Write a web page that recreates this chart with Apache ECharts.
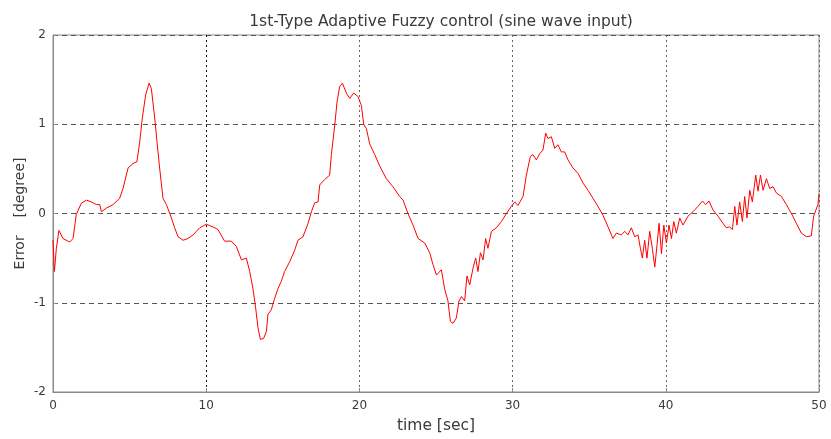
<!DOCTYPE html>
<html>
<head>
<meta charset="utf-8">
<script src="https://cdn.jsdelivr.net/npm/echarts@6/dist/echarts.min.js"></script>
<style>
html,body{margin:0;padding:0;background:#fff;}
#chart{width:831px;height:439px;}
</style>
</head>
<body>
<div id="chart"></div>
<script>
const titleText = '1st-Type Adaptive Fuzzy control (sine wave input)';
const xName = 'time [sec]';
const yName = 'Error    [degree]';
const xTicks = [0, 10, 20, 30, 40, 50];
const yTicks = [-2, -1, 0, 1, 2];

const time = [
  0, 0.09, 0.22, 0.39, 0.65, 1.09, 1.31, 1.52, 1.85, 2.18,
  2.5, 2.83, 3.05, 3.16, 3.48, 3.92, 4.35, 4.57, 4.9, 5.22,
  5.48, 5.66, 5.83, 6.05, 6.27, 6.42, 6.64, 6.79, 6.96, 7.18,
  7.4, 7.73, 7.94, 8.16, 8.49, 8.81, 9.14, 9.58, 10.01, 10.56,
  10.77, 11.2, 11.64, 11.97, 12.3, 12.62, 12.84, 13.05, 13.23, 13.38,
  13.54, 13.75, 13.93, 14.03, 14.25, 14.47, 14.69, 14.9, 15.12, 15.45,
  15.78, 15.99, 16.32, 16.65, 16.87, 17.08, 17.3, 17.41, 17.73, 18.06,
  18.17, 18.39, 18.54, 18.71, 18.89, 19.15, 19.37, 19.63, 19.91, 20.13,
  20.28, 20.46, 20.67, 21.0, 21.33, 21.76, 22.19, 22.63, 22.85, 23.17,
  23.5, 23.83, 24.26, 24.59, 24.8, 25.03, 25.35, 25.57, 25.78, 25.94,
  26.11, 26.33, 26.5, 26.66, 26.87, 27.02, 27.2, 27.42, 27.59, 27.74,
  27.9, 28.07, 28.24, 28.39, 28.62, 28.94, 29.27, 29.6, 29.92, 30.14,
  30.35, 30.68, 30.9, 31.16, 31.33, 31.55, 31.77, 31.98, 32.16, 32.31,
  32.53, 32.75, 32.96, 33.18, 33.4, 33.62, 33.94, 34.27, 34.6, 34.92,
  35.25, 35.57, 35.9, 36.23, 36.55, 36.77, 37.1, 37.32, 37.53, 37.75,
  37.97, 38.19, 38.34, 38.47, 38.62, 38.77, 38.95, 39.12, 39.28, 39.43,
  39.56, 39.72, 39.87, 40.04, 40.21, 40.37, 40.52, 40.69, 40.91, 41.12,
  41.45, 41.78, 42.1, 42.39, 42.6, 42.82, 43.08, 43.41, 43.73, 43.95,
  44.17, 44.35, 44.5, 44.65, 44.82, 45.0, 45.15, 45.3, 45.48, 45.65,
  45.87, 46.02, 46.18, 46.35, 46.57, 46.78, 47.0, 47.22, 47.55, 47.87,
  48.2, 48.52, 48.85, 49.18, 49.5, 49.65, 49.93, 50.0
];

const error = [
  -0.3, -0.65, -0.39, -0.19, -0.28, -0.32, -0.28, -0.01, 0.115, 0.15,
  0.13, 0.10, 0.10, 0.02, 0.06, 0.10, 0.17, 0.28, 0.51, 0.56,
  0.58, 0.80, 1.07, 1.33, 1.46, 1.40, 1.07, 0.80, 0.51, 0.17,
  0.10, -0.05, -0.16, -0.26, -0.30, -0.28, -0.24, -0.16, -0.12, -0.16,
  -0.18, -0.31, -0.31, -0.37, -0.52, -0.50, -0.65, -0.84, -1.06, -1.28,
  -1.41, -1.40, -1.32, -1.13, -1.08, -0.95, -0.84, -0.76, -0.65, -0.54,
  -0.41, -0.30, -0.26, -0.11, 0.02, 0.12, 0.13, 0.32, 0.38, 0.43,
  0.66, 0.99, 1.25, 1.42, 1.46, 1.35, 1.29, 1.35, 1.31, 1.21,
  1.00, 0.95, 0.78, 0.66, 0.53, 0.39, 0.30, 0.19, 0.15, 0.00,
  -0.13, -0.28, -0.33, -0.44, -0.57, -0.69, -0.63, -0.85, -0.98, -1.21,
  -1.23, -1.17, -0.98, -0.93, -0.98, -0.70, -0.80, -0.61, -0.50, -0.65,
  -0.44, -0.52, -0.28, -0.39, -0.20, -0.16, -0.09, 0.00, 0.08, 0.13,
  0.09, 0.19, 0.43, 0.64, 0.66, 0.60, 0.67, 0.71, 0.90, 0.84,
  0.86, 0.73, 0.77, 0.69, 0.69, 0.60, 0.51, 0.45, 0.34, 0.26,
  0.17, 0.08, -0.02, -0.15, -0.28, -0.22, -0.24, -0.20, -0.24, -0.16,
  -0.26, -0.24, -0.39, -0.50, -0.30, -0.50, -0.20, -0.39, -0.60, -0.35,
  -0.11, -0.45, -0.13, -0.33, -0.13, -0.28, -0.09, -0.22, -0.05, -0.13,
  -0.03, 0.02, 0.08, 0.14, 0.10, 0.14, 0.04, -0.03, -0.11, -0.16,
  -0.15, -0.18, 0.08, -0.13, 0.13, -0.09, 0.19, -0.05, 0.26, 0.13,
  0.43, 0.25, 0.43, 0.26, 0.39, 0.28, 0.30, 0.23, 0.19, 0.10,
  0.00, -0.11, -0.22, -0.26, -0.25, -0.03, 0.10, 0.22
];

const seriesData = time.map((t, i) => [t, error[i]]);
const FONT = 'DejaVu Sans';
const textColor = '#3a3a3a';

const chart = echarts.init(document.getElementById('chart'), null, {renderer: 'canvas'});
chart.setOption({
  animation: false,
  backgroundColor: '#ffffff',
  title: {
    text: titleText,
    left: 436,
    textAlign: 'center',
    top: 9,
    textStyle: {fontFamily: FONT, fontSize: 15.5, fontWeight: 'normal', color: textColor}
  },
  grid: {
    left: 53, right: 12, top: 35, bottom: 47,
    show: true, borderColor: '#8a8a8a', borderWidth: 1, backgroundColor: '#fff'
  },
  xAxis: {
    type: 'value',
    min: xTicks[0], max: xTicks[xTicks.length - 1], interval: 10,
    name: xName,
    nameLocation: 'middle',
    nameGap: 26,
    nameTextStyle: {fontFamily: FONT, fontSize: 15.5, color: textColor},
    axisLine: {show: true, onZero: false, lineStyle: {color: '#8a8a8a', width: 1}},
    axisTick: {show: true, inside: true, length: 4, lineStyle: {color: '#8a8a8a'}},
    axisLabel: {fontFamily: FONT, fontSize: 12, color: textColor, margin: 8},
    splitLine: {
      show: true,
      lineStyle: {color: ['#666', '#111', '#666', '#666', '#666', '#666'], type: [2, 3], width: 1}
    }
  },
  yAxis: {
    type: 'value',
    min: yTicks[0], max: yTicks[yTicks.length - 1], interval: 1,
    name: yName,
    nameLocation: 'middle',
    nameGap: 26,
    nameMoveOverlap: false,
    nameTextStyle: {fontFamily: FONT, fontSize: 14, color: textColor},
    axisLine: {show: true, onZero: false, lineStyle: {color: '#8a8a8a', width: 1}},
    axisTick: {show: true, inside: true, length: 4, lineStyle: {color: '#8a8a8a'}},
    axisLabel: {fontFamily: FONT, fontSize: 12, color: textColor, margin: 7},
    splitLine: {
      show: true,
      lineStyle: {color: '#555', type: [5, 4], width: 1}
    }
  },
  series: [{
    type: 'line',
    data: seriesData,
    showSymbol: false,
    symbol: 'none',
    lineStyle: {color: '#ff0000', width: 1},
    z: 5
  }]
});
</script>
</body>
</html>
